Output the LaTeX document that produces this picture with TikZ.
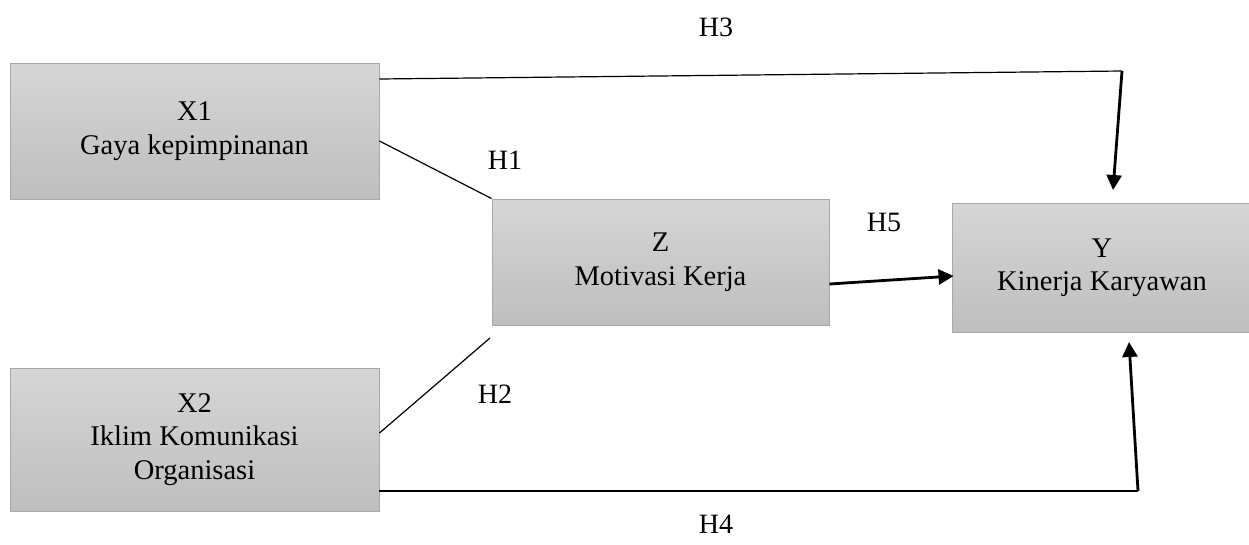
\documentclass[tikz,border=0pt]{standalone}
\usepackage{fontspec}
\setmainfont{Liberation Serif}
\usetikzlibrary{arrows.meta}
\definecolor{boxtop}{HTML}{D6D6D6}
\definecolor{boxbot}{HTML}{BEBEBE}
\definecolor{boxline}{HTML}{A8A8A8}
\tikzset{
  varbox/.style={draw=boxline, line width=0.9pt, top color=boxtop, bottom color=boxbot,
    align=center, inner sep=0pt, font=\fontsize{28.5}{33.5}\selectfont},
  hlabel/.style={font=\fontsize{28}{33}\selectfont, inner sep=0pt},
  thinline/.style={line width=1.2pt},
  thickarrow/.style={line width=2.8pt, -{Triangle[length=15pt,width=15pt]}, shorten >=0pt}
}
\begin{document}
\begin{tikzpicture}[x=1pt,y=-1pt]
\path[use as bounding box] (0,0) rectangle (1249,544);
\node[varbox, minimum width=369pt, minimum height=136pt] (x1) at (194.5,131) {X1\\Gaya kepimpinanan};
\node[varbox, minimum width=369pt, minimum height=143pt] (x2) at (194.5,439.5) {X2\\Iklim Komunikasi\\Organisasi};
\node[varbox, minimum width=337pt, minimum height=126pt] (z) at (660.5,262) {Z\\Motivasi Kerja};
\node[varbox, minimum width=300pt, minimum height=129pt] (y) at (1102,267.5) {Y\\Kinerja Karyawan};

\node[hlabel] (h3) at (716,27) {H3};
\node[hlabel] (h1) at (505,160) {H1};
\node[hlabel] (h5) at (884,222) {H5};
\node[hlabel] (h2) at (495,394) {H2};
\node[hlabel] (h4) at (716,524) {H4};

\coordinate (c3) at (1122,71);
\coordinate (t3) at (1113,190);
\coordinate (c4) at (1138,491);
\coordinate (t4) at (1129,342);
\coordinate (e2) at (490,338);

% H3
\draw[thinline] ([yshift=52pt]x1.east) -- (c3);
\draw[thickarrow] (c3) -- (t3);
% H1
\draw[thinline] ([yshift=-10pt]x1.east) -- (z.north west);
% H2
\draw[thinline] ([yshift=6.5pt]x2.east) -- (e2);
% H4
\draw[thinline] ([yshift=-51.5pt]x2.east) -- (c4);
\draw[thickarrow] (c4) -- (t4);
% H5
\draw[thickarrow] ([yshift=-22pt]z.east) -- ([yshift=-8.5pt,xshift=2pt]y.west);
\end{tikzpicture}
\end{document}
